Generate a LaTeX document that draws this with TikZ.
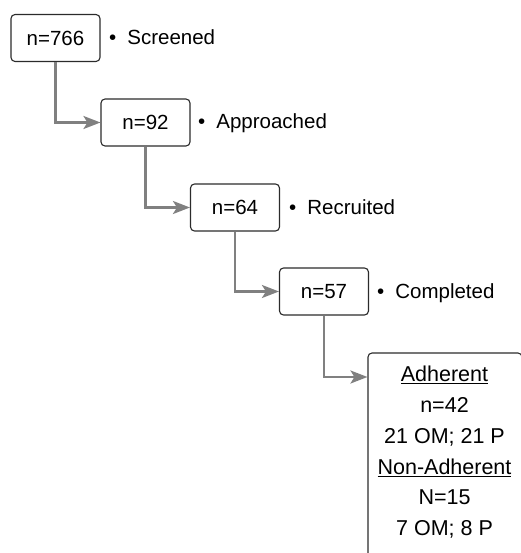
\documentclass[tikz,border=0pt]{standalone}
\usepackage{fontspec}
\setmainfont{Liberation Sans}
\usetikzlibrary{arrows.meta}
\definecolor{conngray}{HTML}{808080}
\definecolor{boxline}{HTML}{2B2B2B}
\begin{document}
\begin{tikzpicture}[x=1pt,y=-1pt,
  stagebox/.style={draw=boxline,line width=1.1pt,rounded corners=4pt,minimum width=89pt,minimum height=47pt,inner sep=0pt,font=\fontsize{20.5}{24}\selectfont},
  lbl/.style={anchor=base west,inner sep=0pt,font=\fontsize{20.5}{24}\selectfont},
  conn/.style={draw=conngray,line width=2.4pt,-{Stealth[length=17pt,width=13pt,inset=4pt]}}]
\useasboundingbox (0,0) rectangle (520,553);
\node[stagebox] (b1) at (55.5,38) {n=766};
\node[stagebox] (b2) at (145.5,122.5) {n=92};
\node[stagebox] (b3) at (235,207.5) {n=64};
\node[stagebox] (b4) at (324,291.5) {n=57};
\node[stagebox,minimum width=154pt,minimum height=210pt] (b5) at (445,458) {};
\node[lbl] (l1) at (109,44.5) {•\hspace{11pt}Screened};
\node[lbl] (l2) at (198,129) {•\hspace{11pt}Approached};
\node[lbl] (l3) at (289,214) {•\hspace{11pt}Recruited};
\node[lbl] (l4) at (377,298) {•\hspace{11pt}Completed};
\node[align=center,inner sep=0pt,font=\fontsize{21.5}{30.8}\selectfont,anchor=north] (t5) at (444.5,366)
  {\underline{Adherent}\\n=42\\21 OM; 21 P\\\underline{Non-Adherent}\\N=15\\7 OM; 8 P};
\coordinate (e5) at (b5.west |- 0,377);
\draw[conn] (b1.south) |- (b2.west);
\draw[conn] (b2.south) |- (b3.west);
\draw[conn] (b3.south) |- (b4.west);
\draw[conn] (b4.south) |- (e5);
\end{tikzpicture}
\end{document}
